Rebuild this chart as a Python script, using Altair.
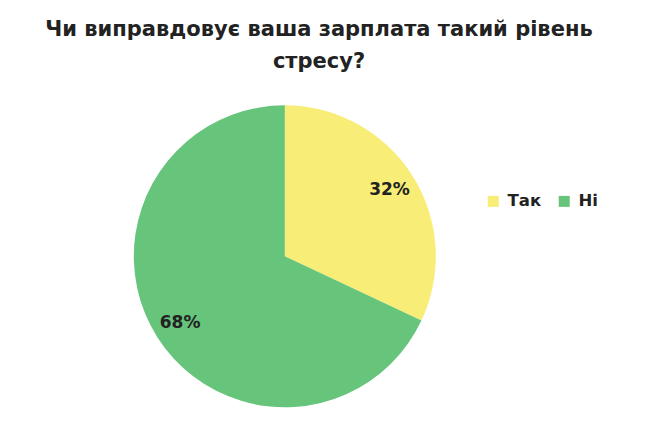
import altair as alt
import pandas as pd

categories = ["Так", "Ні"]
values = [32, 68]
labels = ["32%", "68%"]
colors = ["#F7ED77", "#66C47B"]

df = pd.DataFrame({"cat": categories, "value": values, "label": labels, "ord": list(range(len(categories)))})

FONT = "DejaVu Sans"
cx, cy = 276.8, 248.3

base = alt.Chart(df).encode(
    theta=alt.Theta("value:Q", stack=True),
    order=alt.Order("ord:Q"),
)

arcs = base.mark_arc(outerRadius=151, stroke=None).encode(
    x=alt.value(cx),
    y=alt.value(cy),
    color=alt.Color(
        "cat:N",
        scale=alt.Scale(domain=categories, range=colors),
        sort=categories,
        legend=alt.Legend(
            title=None,
            orient="none",
            legendX=477,
            legendY=185,
            direction="horizontal",
            symbolType="square",
            symbolSize=121,
            symbolStrokeWidth=0,
            symbolOpacity=1,
            labelFont=FONT,
            labelFontSize=16.5,
            labelFontWeight="bold",
            labelColor="#222222",
            labelOffset=6,
            columnPadding=14,
            padding=0,
        ),
    ),
)

text = base.mark_text(
    radius=124, font=FONT, fontSize=17, fontWeight="bold", color="#222222"
).encode(
    x=alt.value(cx),
    y=alt.value(cy),
    text="label:N",
)

chart = alt.layer(arcs, text).properties(
    width=649,
    height=412,
    padding=0,
    autosize=alt.AutoSizeParams(type="none"),
    title=alt.Title(
        ["Чи виправдовує ваша зарплата такий рівень", "стресу?"],
        font=FONT,
        fontSize=21,
        fontWeight="bold",
        color="#222222",
        lineHeight=32,
        anchor="middle",
        baseline="top",
        dx=-13.5,
        dy=68,
    ),
).configure_view(stroke=None)

chart.save("out.html", embed_options={"renderer": "svg", "actions": False})
